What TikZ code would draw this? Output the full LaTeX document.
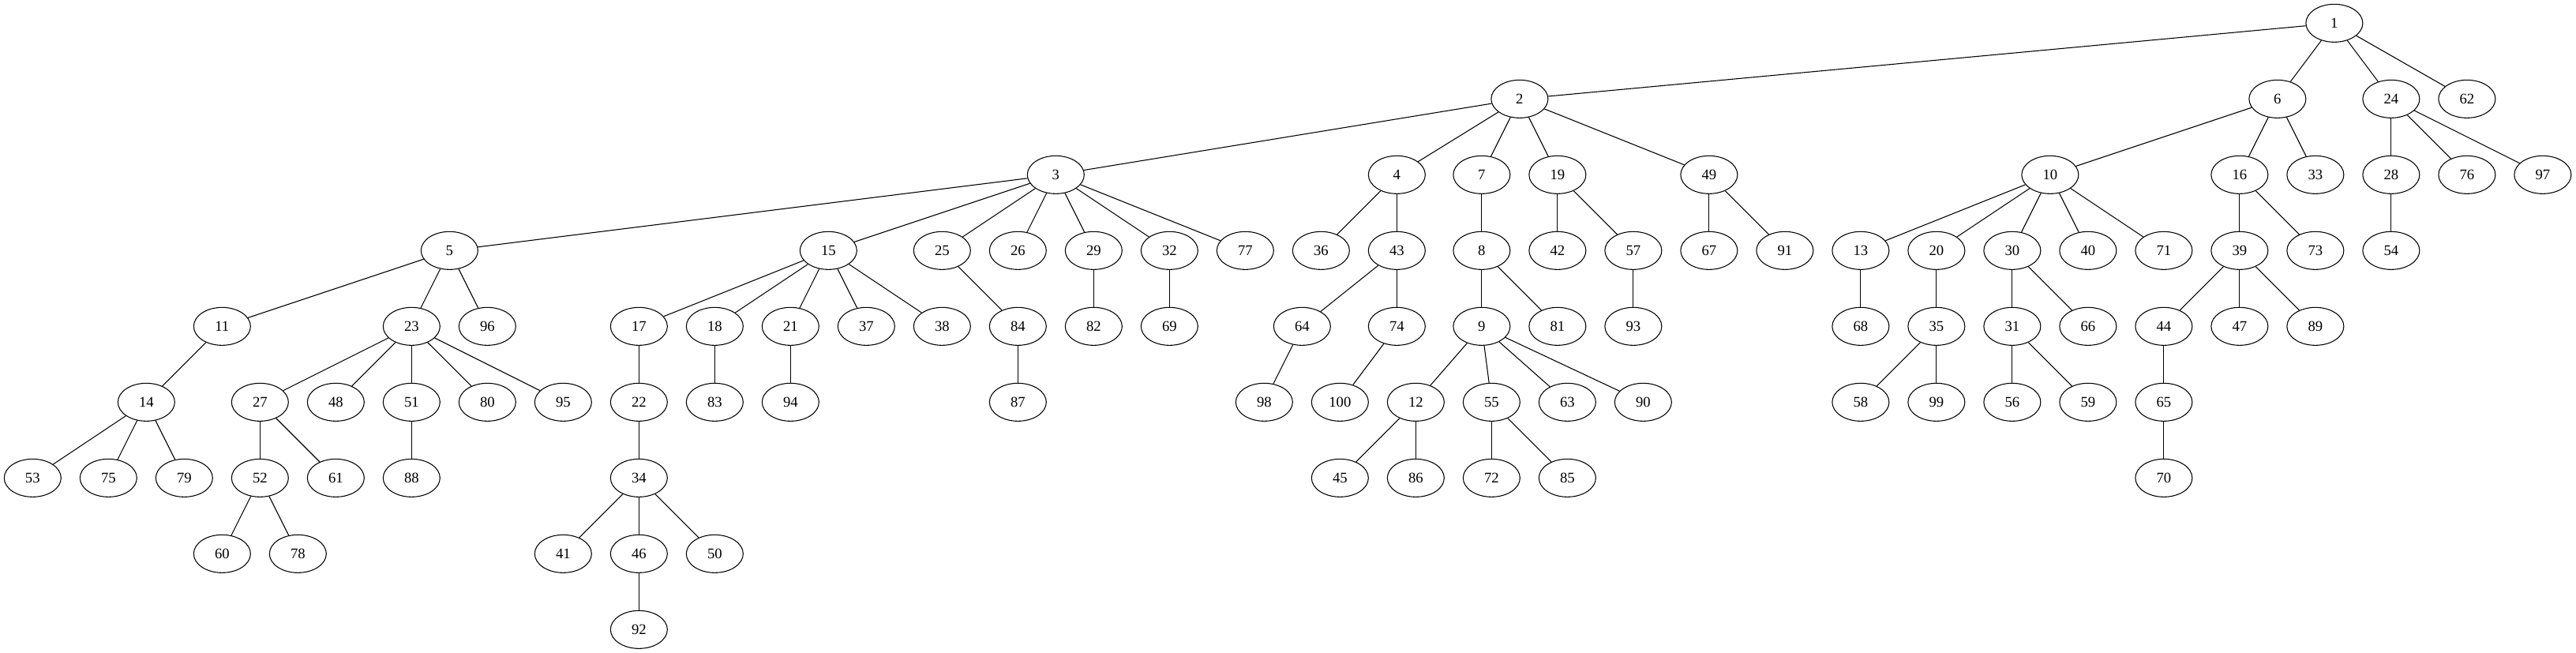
\documentclass[tikz,border=0pt]{standalone}
\usepackage{fontspec}
\setmainfont{Liberation Serif}
\usetikzlibrary{shapes.geometric}

\begin{document}
\begin{tikzpicture}[x=72pt, y=-72pt, line width=0.8pt,
	vtx/.style={draw, ellipse, minimum width=54pt, minimum height=36pt,
		inner sep=0pt, font=\fontsize{14}{16}\selectfont}]

\useasboundingbox (-31pt, 22pt) rectangle (2416.25pt, -598.25pt);

% vertices: label / column / rank
\foreach \v/\c/\r in {1/30.37/0,
	2/19.62/1, 6/29.62/1, 24/31.12/1, 62/32.12/1,
	3/13.5/2, 4/18/2, 7/19.12/2, 19/20.12/2, 49/22.12/2, 10/26.62/2,
	16/29.12/2, 33/30.12/2, 28/31.12/2, 76/32.12/2, 97/33.12/2,
	5/5.5/3, 15/10.5/3, 25/12/3, 26/13/3, 29/14/3, 32/15/3, 77/16/3,
	36/17/3, 43/18/3, 8/19.12/3, 42/20.12/3, 57/21.12/3, 67/22.12/3,
	91/23.12/3, 13/24.12/3, 20/25.12/3, 30/26.12/3, 40/27.12/3,
	71/28.12/3, 39/29.12/3, 73/30.12/3, 54/31.12/3,
	11/2.5/4, 23/5/4, 96/6/4, 17/8/4, 18/9/4, 21/10/4, 37/11/4, 38/12/4,
	84/13/4, 82/14/4, 69/15/4, 64/16.75/4, 74/18/4, 9/19.12/4,
	81/20.12/4, 93/21.12/4, 68/24.12/4, 35/25.12/4, 31/26.12/4,
	66/27.12/4, 44/28.12/4, 47/29.12/4, 89/30.12/4,
	14/1.5/5, 27/3/5, 48/4/5, 51/5/5, 80/6/5, 95/7/5, 22/8/5, 83/9/5,
	94/10/5, 87/13/5, 98/16.25/5, 100/17.25/5, 12/18.25/5, 55/19.25/5,
	63/20.25/5, 90/21.25/5, 58/24.12/5, 99/25.12/5, 56/26.12/5,
	59/27.12/5, 65/28.12/5,
	53/0/6, 75/1/6, 79/2/6, 52/3/6, 61/4/6, 88/5/6, 34/8/6, 45/17.25/6,
	86/18.25/6, 72/19.25/6, 85/20.25/6, 70/28.12/6,
	60/2.5/7, 78/3.5/7, 41/7/7, 46/8/7, 50/9/7,
	92/8/8}
	\node [vtx] (n\v) at (\c, \r) {\v};

% tree edges
\foreach \a/\b in {1/2, 1/6, 1/24, 1/62,
	2/3, 2/4, 2/7, 2/19, 2/49, 6/10, 6/16, 6/33, 24/28, 24/76, 24/97,
	3/5, 3/15, 3/25, 3/26, 3/29, 3/32, 3/77, 4/36, 4/43, 7/8,
	19/42, 19/57, 49/67, 49/91, 10/13, 10/20, 10/30, 10/40, 10/71,
	16/39, 16/73, 28/54,
	5/11, 5/23, 5/96, 15/17, 15/18, 15/21, 15/37, 15/38, 25/84,
	29/82, 32/69, 43/64, 43/74, 8/9, 8/81, 57/93, 13/68, 20/35,
	30/31, 30/66, 39/44, 39/47, 39/89,
	11/14, 23/27, 23/48, 23/51, 23/80, 23/95, 17/22, 18/83, 21/94,
	84/87, 64/98, 74/100, 9/12, 9/55, 9/63, 9/90, 35/58, 35/99,
	31/56, 31/59, 44/65,
	14/53, 14/75, 14/79, 27/52, 27/61, 51/88, 22/34, 12/45, 12/86,
	55/72, 55/85, 65/70,
	52/60, 52/78, 34/41, 34/46, 34/50, 46/92}
	\draw (n\a) -- (n\b);
\end{tikzpicture}
\end{document}
